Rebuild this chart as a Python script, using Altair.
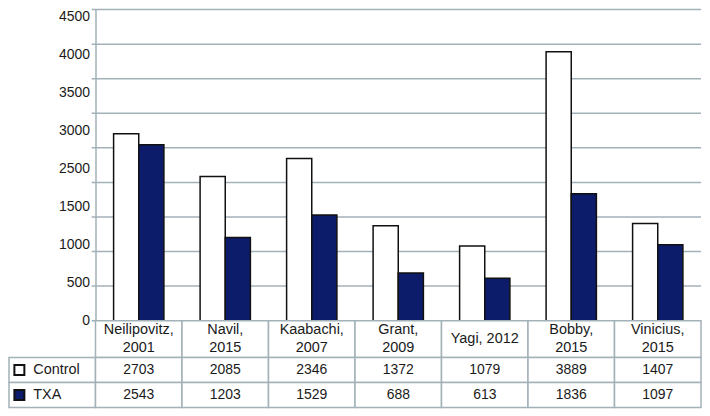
import altair as alt
import pandas as pd

# ---- data ----
categories = ["Neilipovitz, 2001", "Navil, 2015", "Kaabachi, 2007", "Grant, 2009",
              "Yagi, 2012", "Bobby, 2015", "Vinicius, 2015"]
header_labels = ["Neilipovitz,\n2001", "Navil,\n2015", "Kaabachi,\n2007", "Grant,\n2009",
                 "Yagi, 2012", "Bobby,\n2015", "Vinicius,\n2015"]
series = ["Control", "TXA"]
control = [2703, 2085, 2346, 1372, 1079, 3889, 1407]
txa = [2543, 1203, 1529, 688, 613, 1836, 1097]
grid_values = [0, 500, 1000, 1500, 2000, 2500, 3000, 3500, 4000, 4500]
y_tick_labels = ["0", "500", "1000", "1500", "2500", "3000", "3500", "4000", "4500"]

# ---- styling ----
FONT = "Liberation Sans"
TEXT = "#1a1a1a"
LINE = "#a3b1b8"
NAVY = "#0d1b6b"
series_colors = ["#ffffff", NAVY]

LEG = "legend"
x_domain = [LEG] + categories
W = 694
STEP = W / len(x_domain)
H_PLOT, H_HEAD, H_TAB = 312, 37, 50
LH = 18

xscale = alt.Scale(domain=x_domain, paddingInner=0, paddingOuter=0)
yscale = alt.Scale(domain=[0, 4500], nice=False)
fillscale = alt.Scale(domain=series, range=series_colors)

# label positions spread as in the reference (labels evenly spaced, one fewer than gridlines)
n_lab = len(y_tick_labels)
label_pos = [i * 4400 / (n_lab - 1) for i in range(n_lab)]
label_expr = "[" + ",".join("'%s'" % t for t in y_tick_labels) + "][round(datum.index*%d)]" % (n_lab - 1)

yaxis = alt.Axis(values=label_pos, labelExpr=label_expr, offset=-STEP, ticks=False, grid=False,
                 domain=True, domainColor=LINE, domainWidth=1.5, labelFont=FONT, labelFontSize=14,
                 labelColor=TEXT, labelPadding=6, labelOverlap=False, labelFlush=False,
                 title=None, minExtent=0)

# ---- bar chart ----
bar_df = pd.DataFrame(
    [{"study": c, "group": "Control", "value": v} for c, v in zip(categories, control)] +
    [{"study": c, "group": "TXA", "value": v} for c, v in zip(categories, txa)]
)
grid_df = pd.DataFrame({"value": grid_values, "x1": LEG, "x2": categories[-1]})

grid = alt.Chart(grid_df).mark_rule(color=LINE, strokeWidth=1.5).encode(
    x=alt.X("x1:N", scale=xscale, bandPosition=0.955, axis=None),
    x2=alt.X2("x2:N", bandPosition=1),
    y=alt.Y("value:Q", scale=yscale, axis=yaxis),
)

bars = alt.Chart(bar_df).mark_bar(stroke="#111111", strokeWidth=1.5).encode(
    x=alt.X("study:N", scale=xscale, axis=None),
    xOffset=alt.XOffset("group:N", scale=alt.Scale(domain=series, paddingInner=0, paddingOuter=0.72)),
    y=alt.Y("value:Q", scale=yscale, axis=yaxis),
    fill=alt.Fill("group:N", scale=fillscale, legend=None),
)

bar_chart = alt.layer(grid, bars).properties(width=W, height=H_PLOT)

# ---- header row ----
hdr_df = pd.DataFrame({"study": categories, "label": header_labels})
hdr_base = alt.Chart(hdr_df).encode(x=alt.X("study:N", scale=xscale, axis=None))
hdr_cells = hdr_base.mark_rect(fill="white", stroke=LINE, strokeWidth=1.5)
hdr_text2 = hdr_base.mark_text(lineBreak="\n", font=FONT, fontSize=14.5, lineHeight=LH,
                               baseline="middle", color=TEXT, dy=-LH / 2).encode(
    text="label:N").transform_filter("indexof(datum.label, '\\n') >= 0")
hdr_text1 = hdr_base.mark_text(font=FONT, fontSize=14.5, baseline="middle", color=TEXT).encode(
    text="label:N").transform_filter("indexof(datum.label, '\\n') < 0")
header = alt.layer(hdr_cells, hdr_text2, hdr_text1).properties(width=W, height=H_HEAD)

# ---- data table ----
yrow = alt.Scale(domain=series, paddingInner=0, paddingOuter=0)
cell_df = pd.DataFrame([{"study": s, "group": g} for g in series for s in x_domain])
tab_cells = alt.Chart(cell_df).mark_rect(fill="white", stroke=LINE, strokeWidth=1.5).encode(
    x=alt.X("study:N", scale=xscale, axis=None),
    y=alt.Y("group:N", scale=yrow, axis=None),
)
tab_text = alt.Chart(bar_df).mark_text(font=FONT, fontSize=14, color=TEXT, baseline="middle").encode(
    x=alt.X("study:N", scale=xscale, axis=None),
    y=alt.Y("group:N", scale=yrow, axis=None),
    text=alt.Text("value:Q", format="d"),
)
leg_df = pd.DataFrame({"study": LEG, "group": series})
leg_sym = alt.Chart(leg_df).mark_point(shape="square", filled=True, size=100, stroke="#111111",
                                      strokeWidth=2, opacity=1).encode(
    x=alt.X("study:N", scale=xscale, bandPosition=0.12, axis=None),
    y=alt.Y("group:N", scale=yrow, axis=None),
    fill=alt.Fill("group:N", scale=fillscale, legend=None),
)
leg_txt = alt.Chart(leg_df).mark_text(font=FONT, fontSize=14.5, color=TEXT, align="left",
                                     baseline="middle").encode(
    x=alt.X("study:N", scale=xscale, bandPosition=0.28, axis=None),
    y=alt.Y("group:N", scale=yrow, axis=None),
    text="group:N",
)
table = alt.layer(tab_cells, tab_text, leg_sym, leg_txt).properties(width=W, height=H_TAB)

chart = alt.vconcat(bar_chart, header, table, spacing=0, bounds="flush").properties(
    padding=0
).configure_view(stroke=None).configure_concat(spacing=0)

chart.save("out.html", embed_options={"renderer": "svg", "actions": False})
